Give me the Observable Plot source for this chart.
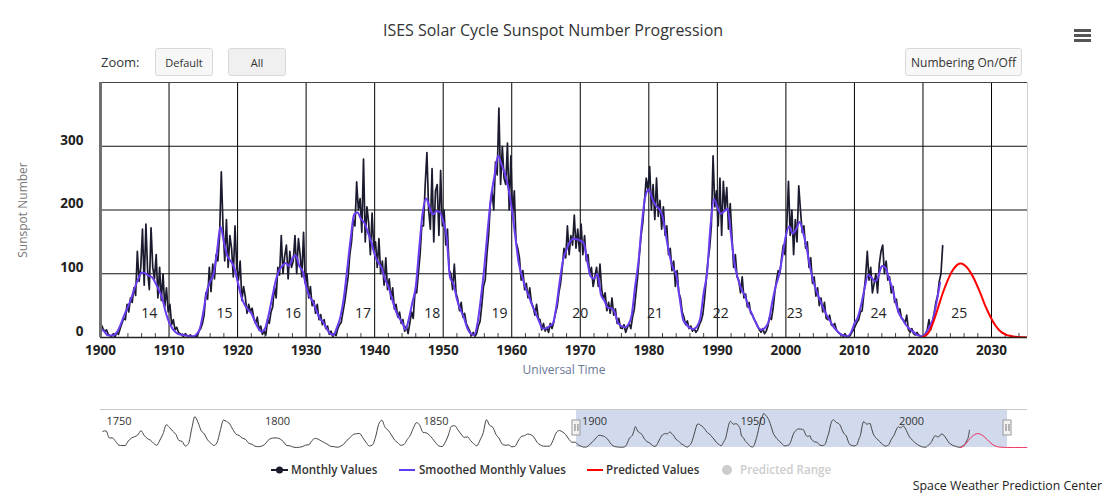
<!DOCTYPE html>
<html><head><meta charset="utf-8">
<script src="https://cdn.jsdelivr.net/npm/d3@7"></script>
<script src="https://cdn.jsdelivr.net/npm/@observablehq/plot@0.6"></script>
<style>
body{margin:0;background:#fff;font-family:'Open Sans',sans-serif;}
#wrap{position:relative;width:1106px;height:493px;overflow:hidden;background:#fff;}
.abs{position:absolute;white-space:nowrap;}
.btn{position:absolute;box-sizing:border-box;height:28px;top:48px;border:1px solid #d9d9d9;background:#f7f7f7;border-radius:3px;font-size:11px;color:#333;display:flex;align-items:center;justify-content:center;}
.bar{position:absolute;left:1074px;width:17px;height:2.5px;background:#555;}
.leg{position:absolute;top:462px;height:16px;line-height:16px;font-size:11.6px;color:#333;font-weight:600;white-space:nowrap;}
.sw{position:absolute;top:462px;}
#main,#nav{position:absolute;left:0;}
#main{top:0;} #nav{top:395px;}
</style></head>
<body><div id="wrap">
<div class="abs" style="left:0;width:1106px;top:19px;line-height:22px;text-align:center;font-size:16px;color:#333;">ISES Solar Cycle Sunspot Number Progression</div>
<div class="abs" style="left:101px;top:53px;line-height:18px;font-size:13px;color:#333;">Zoom:</div>
<div class="btn" style="left:155px;width:58px;">Default</div>
<div class="btn" style="left:228px;width:58px;background:#f0f0f0;">All</div>
<div class="btn" style="left:905px;width:117px;font-size:12px;">Numbering On/Off</div>
<div class="bar" style="top:29px;"></div><div class="bar" style="top:34px;"></div><div class="bar" style="top:39px;"></div>
<div id="main"></div>
<div id="nav"></div>
<svg class="sw" style="left:271px" width="17" height="16"><line x1="0" y1="8" x2="17" y2="8" stroke="#1b1b2f" stroke-width="2"/><circle cx="8.5" cy="8" r="3.5" fill="#1b1b2f"/></svg>
<div class="leg" style="left:291px">Monthly Values</div>
<svg class="sw" style="left:399px" width="16" height="16"><line x1="0" y1="8" x2="16" y2="8" stroke="#5b3cf5" stroke-width="2"/></svg>
<div class="leg" style="left:419px">Smoothed Monthly Values</div>
<svg class="sw" style="left:587px" width="16" height="16"><line x1="0" y1="8" x2="16" y2="8" stroke="#ff0000" stroke-width="2"/></svg>
<div class="leg" style="left:606px">Predicted Values</div>
<svg class="sw" style="left:721px" width="12" height="16"><circle cx="6" cy="8" r="5" fill="#cccccc"/></svg>
<div class="leg" style="left:740px;color:#cccccc">Predicted Range</div>
<div class="abs" style="right:4px;top:479px;line-height:14px;font-size:12.3px;color:#222;">Space Weather Prediction Center</div>
</div>
<script>
// ---- Monthly values (sampled quarterly), by decade ----
const m1900 = [20,14,9,12, 5,3,2,6, 1,8,5,14, 22,30,28,52, 40,62,55,78, 66,135,88,110, 170,82,178,104, 75,172,110,92, 130,62,110,58, 100,48,78,40];
const m1910 = [52,20,28,12, 16,8,6,4, 2,6,3,2, 4,1,0,3, 2,10,14,22, 36,70,60,110, 72,115,92,130, 120,160,260,175, 120,185,110,160, 140,95,175,110];
const m1920 = [90,120,58,80, 64,38,52,40, 46,30,22,32, 12,18,5,10, 4,28,22,40, 48,80,62,110, 98,160,100,128, 145,92,135,110, 120,160,100,155, 130,95,165,85];
const m1930 = [100,62,80,50, 58,38,52,28, 36,20,28,14, 18,5,10,2, 6,3,14,20, 24,40,55,75, 95,130,150,185, 175,244,200,218, 165,280,150,205, 180,130,195,140];
const m1940 = [150,110,155,100, 120,82,125,75, 92,60,78,45, 52,32,40,22, 28,10,18,6, 22,40,30,70, 70,100,130,175, 175,240,290,200, 170,265,150,230, 240,160,262,175];
const m1950 = [200,145,170,105, 100,75,115,70, 60,42,55,32, 38,22,16,10, 3,8,2,6, 18,25,50,80, 90,130,160,210, 230,200,275,255, 360,240,300,250, 240,305,200,285];
const m1960 = [190,230,150,140, 125,90,105,75, 85,62,78,55, 48,35,52,30, 28,12,22,10, 16,8,22,14, 24,38,48,70, 85,110,140,125, 175,130,160,145, 192,140,170,135];
const m1970 = [178,130,160,120, 130,100,110,80, 95,110,80,115, 75,60,70,42, 55,38,62,35, 45,22,30,15, 14,20,8,16, 22,14,32,44, 70,95,130,160, 180,215,250,230];
const m1980 = [268,200,240,185, 250,190,215,170, 205,160,175,130, 140,105,120,80, 105,70,62,40, 32,20,26,14, 18,10,14,8, 12,20,26,36, 60,90,120,140, 175,285,205,230];
const m1990 = [175,250,160,245, 200,235,170,210, 160,110,130,95, 90,70,95,62, 68,48,55,38, 35,28,24,18, 12,8,14,6, 10,18,32,28, 45,70,90,105, 100,125,145,130];
const m2000 = [175,245,160,200, 130,185,150,238, 200,165,175,140, 150,110,125,85, 95,65,78,50, 62,40,55,30, 28,35,20,18, 22,12,8,6, 4,2,6,1, 2,3,8,12];
const m2010 = [18,24,28,40, 42,68,95,135, 90,110,70,85, 100,70,115,135, 145,100,120,90, 95,70,80,55, 60,40,45,30, 28,22,35,12, 8,14,6,4, 8,4,2,1];
const m2020 = [3,6,12,28, 12,24,38,55, 65,88,100,144];

// ---- Smoothed monthly values (every half year), by decade ----
const s1900 = [14,10,4,3,4,10,22,36,48,62,78,92,102,101,97,95,86,75,62,40];
const s1910 = [24,14,8,5,4,3,2,2,5,14,40,72,88,100,135,174,150,128,120,110];
const s1920 = [88,66,52,44,38,26,15,9,14,34,60,86,104,112,117,112,124,129,112,104];
const s1930 = [80,64,56,42,30,24,14,6,4,16,32,62,108,155,193,196,186,180,165,150];
const s1940 = [130,118,110,92,80,62,44,32,24,13,30,55,80,140,195,218,205,193,198,197];
const s1950 = [182,158,94,84,60,44,32,15,6,4,22,62,110,170,222,255,285,272,257,235];
const s1960 = [202,160,118,96,78,65,50,38,25,14,14,18,22,48,88,122,138,150,155,154];
const s1970 = [152,148,121,96,92,100,68,58,47,46,40,23,18,16,20,35,80,120,180,222];
const s1980 = [232,218,207,202,190,160,130,110,98,62,28,20,15,13,17,30,70,102,175,217];
const s1990 = [205,194,198,202,160,116,92,76,66,50,38,26,15,12,16,26,55,80,98,128];
const s2000 = [160,174,163,170,181,165,142,112,88,72,58,45,34,25,16,10,5,3,2,8];
const s2010 = [22,32,52,78,98,94,88,96,112,110,94,78,56,38,29,20,14,10,5,3];
const s2020 = [2,8,18,30,56,86];

// ---- Predicted values (every half year from 2020) ----
const predictedValues = [1,4,11,24,40,57,73,87,99,108,114,116,114,109,101,91,79,66,52,40,29,20,13,8,5,3,2,1,0.6,0.4,0.2,0.1,0.1,0.1,0.1,0.1,0.1,0.1,0.1,0.1,0.1,0.1,0.1];

// ---- Navigator: yearly values before 1900 ----
const y1749 = [135,139,80,80,51,20,16,17,54,79,90,105,140,102,75,61,35,19,63,116,190,168,136,111,58,51,12,33,154,257,210,141,114,64,38,17,40,138,228,218,197,150,111,100,78,68,36,27,11,7,11];
const y1800 = [24,57,75,80,79,70,47,17,14,4,0,2,8,20,23,59,76,68,53,39,24,9,6,2,11,28,60,83,109,115,117,81,44,13,20,86,193,227,169,143,106,63,40,18,25,66,103,166,208,183];
const y1850 = [126,122,103,74,39,13,8,43,104,178,182,147,112,84,89,58,31,14,63,124,232,185,169,110,75,28,19,21,6,10,54,91,99,112,106,86,42,22,11,10,12,60,122,142,130,107,69,44,44,20];

// ---- Axes, labels ----
const xTicks = [1900,1910,1920,1930,1940,1950,1960,1970,1980,1990,2000,2010,2020,2030];
const xMinorTicks = d3.range(1902, 2035, 2).filter(d => d % 10 !== 0);
const yTicks = [0,100,200,300];
const cycleNumbers = ["14","15","16","17","18","19","20","21","22","23","24","25"];
const cycleYears = [1907.1,1918.1,1928.1,1938.3,1948.4,1958.2,1970.0,1980.9,1990.5,2001.3,2013.5,2025.3];
const mainDomain = [1900, 2035.25];
const navDomain = [1748.74, 2041.2];
const navTicks = [1750,1800,1850,1900,1950,2000];
const navSelection = [1898.9, 2034.9];

// ---- Build tables ----
const monthly = [m1900,m1910,m1920,m1930,m1940,m1950,m1960,m1970,m1980,m1990,m2000,m2010,m2020]
  .flatMap((arr,k) => arr.map((v,i) => ({t: 1900 + 10*k + (i + 0.5)/4, v})));
const smoothed = [s1900,s1910,s1920,s1930,s1940,s1950,s1960,s1970,s1980,s1990,s2000,s2010,s2020]
  .flatMap((arr,k) => arr.map((v,i) => ({t: 1900 + 10*k + i/2, v})));
const predicted = predictedValues.map((v,i) => ({t: 2020 + i/2, v}));
const early = [...y1749, ...y1800, ...y1850].map((v,i) => ({t: 1749.5 + i, v}));
const navSeries = early.concat(smoothed, monthly.slice(-2));
const cycles = cycleNumbers.map((n,i) => ({n, year: cycleYears[i]}));

const FONT = "'Open Sans', sans-serif";
const main = Plot.plot({
  width: 1106, height: 380,
  marginLeft: 100, marginRight: 79, marginTop: 82, marginBottom: 43,
  x: {domain: mainDomain, axis: null},
  y: {domain: [0, 400], axis: null},
  style: {fontFamily: FONT, background: "transparent", overflow: "visible"},
  marks: [
    Plot.ruleX(xTicks.filter(d => d > 1900), {stroke: "#000", strokeWidth: 1}),
    Plot.ruleY([100,200,300], {stroke: "#111", strokeWidth: 1}),
    Plot.ruleX(xMinorTicks, {insetTop: 251, stroke: "#444"}),
    Plot.line(monthly, {x: "t", y: "v", stroke: "#1b1b2f", strokeWidth: 1.7, clip: true}),
    Plot.line(smoothed, {x: "t", y: "v", stroke: "#6a3cf2", strokeWidth: 2, curve: "monotone-x", clip: true}),
    Plot.line(predicted, {x: "t", y: "v", stroke: "#ff0000", strokeWidth: 2, curve: "monotone-x", clip: true}),
    Plot.ruleY([400], {stroke: "#444"}),
    Plot.ruleX([mainDomain[1]], {stroke: "#cfcfcf"}),
    Plot.ruleY([0], {stroke: "#222", strokeWidth: 1.5}),
    Plot.ruleX([1900], {stroke: "#707070", strokeWidth: 3}),
    Plot.text(cycles, {x: "year", text: "n", frameAnchor: "bottom", dy: -20, fontSize: 14, fill: "#222"}),
    Plot.text(xTicks, {x: d => d, text: d => String(d), frameAnchor: "bottom", dy: 17, fontSize: 13.5, fontWeight: "bold", fill: "#222"}),
    Plot.text(yTicks, {y: d => d, text: d => String(d), frameAnchor: "left", textAnchor: "end", dx: -17, dy: -6, fontSize: 13.5, fontWeight: "bold", fill: "#222"}),
    Plot.text(["Sunspot Number"], {text: d => d, frameAnchor: "left", textAnchor: "middle", dx: -77, rotate: -90, fontSize: 12, fill: "#777"}),
    Plot.text(["Universal Time"], {text: d => d, frameAnchor: "bottom", dy: 36, fontSize: 12, fill: "#6a7896"})
  ]
});
document.getElementById("main").appendChild(main);

const nav = Plot.plot({
  width: 1106, height: 60,
  marginLeft: 100, marginRight: 79, marginTop: 14, marginBottom: 8,
  x: {domain: navDomain, axis: null},
  y: {domain: [0, 317], axis: null},
  style: {fontFamily: FONT, background: "transparent", overflow: "visible"},
  marks: [
    Plot.rect([navSelection], {x1: d => d[0], x2: d => d[1], fill: "rgb(102,133,194)", fillOpacity: 0.3}),
    Plot.ruleY([317], {stroke: "#c8c8c8"}),
    Plot.line(navSeries, {x: "t", y: "v", stroke: "#444", strokeWidth: 1, curve: "monotone-x"}),
    Plot.line(predicted, {x: "t", y: "v", stroke: "#f0285a", strokeWidth: 1, curve: "monotone-x"}),
    Plot.text(navTicks, {x: d => d, text: d => String(d), frameAnchor: "top", dy: 8, dx: 2, textAnchor: "start", fontSize: 11, fill: "#333"}),
    Plot.rect(navSelection, {x1: d => d, x2: d => d, insetLeft: -4, insetRight: -4, insetTop: 11, insetBottom: 12, fill: "#f2f2f2", stroke: "#999"}),
    Plot.ruleX(navSelection, {dx: -1.5, insetTop: 15, insetBottom: 16, stroke: "#777"}),
    Plot.ruleX(navSelection, {dx: 1.5, insetTop: 15, insetBottom: 16, stroke: "#777"})
  ]
});
document.getElementById("nav").appendChild(nav);
</script>
</body></html>
